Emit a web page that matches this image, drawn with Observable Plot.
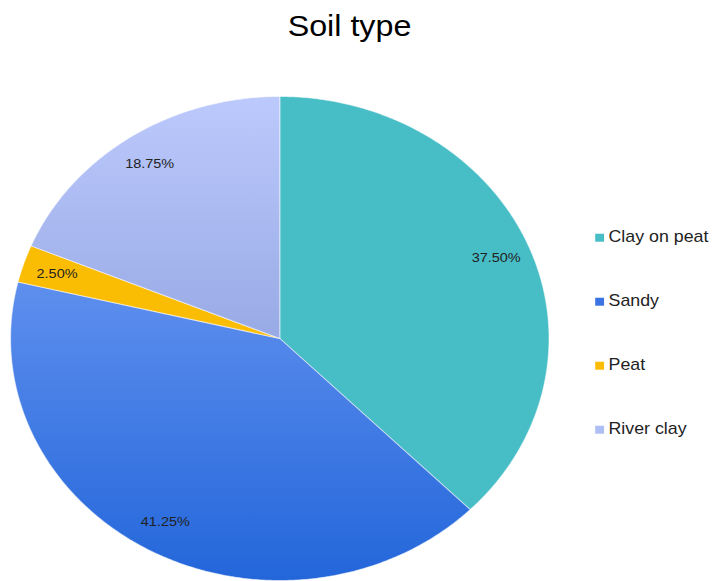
<!DOCTYPE html>
<html><head><meta charset="utf-8">
<script src="https://cdn.jsdelivr.net/npm/d3@7"></script>
<script src="https://cdn.jsdelivr.net/npm/@observablehq/plot@0.6"></script>
<style>
body{margin:0;background:#fff;font-family:"Liberation Sans",Arial,sans-serif}
</style>
</head><body><div id="chart"></div>
<script>
const title = "Soil type";
const categories = ["Clay on peat", "Sandy", "Peat", "River clay"];
const shares = [37.5, 41.25, 2.5, 18.75];
const valueLabels = ["37.50%", "41.25%", "2.50%", "18.75%"];
const sliceFills = ["#47BDC6", "url(#gSandy)", "#FBBC04", "url(#gRiver)"];
const legendColors = ["#47BDC6", "#3A74E2", "#FBBC04", "#AEBFF5"];

const total = d3.sum(shares);
let acc = 0;
const slices = categories.map((c, i) => {
  const a0 = acc / total * 360;
  acc += shares[i];
  const a1 = acc / total * 360;
  return {category: c, a0, a1, mid: (a0 + a1) / 2, label: valueLabels[i], fill: sliceFills[i]};
});
function ring(s) {
  const pts = [{x: 0, y: 0}];
  const n = Math.max(4, Math.ceil((s.a1 - s.a0) * 2));
  for (let k = 0; k <= n; k++) {
    const a = (s.a0 + (s.a1 - s.a0) * k / n) * Math.PI / 180;
    pts.push({x: Math.sin(a), y: Math.cos(a)});
  }
  pts.push({x: 0, y: 0});
  return pts;
}
const labelR = 0.87;
const legendStep = 0.2645;

const marks = [];
slices.forEach(s => {
  marks.push(Plot.line(ring(s), {x: "x", y: "y", fill: s.fill, stroke: "white", strokeWidth: 1, strokeOpacity: 0.5}));
});
marks.push(Plot.text(slices, {
  x: d => labelR * Math.sin(d.mid * Math.PI / 180),
  y: d => labelR * Math.cos(d.mid * Math.PI / 180),
  text: "label", fontSize: 13, fill: "#222"
}));
marks.push(Plot.text([title], {x: [0.259], y: [1.248], text: d => d, fontSize: 29, lineAnchor: "bottom", fill: "#000"}));
marks.push(Plot.dot(categories, {
  x: () => 1.188, y: (d, i) => 0.4165 - i * legendStep,
  symbol: "square", r: 4.5, fill: (d, i) => legendColors[i], stroke: null
}));
marks.push(Plot.text(categories, {
  x: () => 1.221, y: (d, i) => 0.4215 - i * legendStep,
  text: d => d, textAnchor: "start", fontSize: 16, fill: "#222"
}));

const svg = Plot.plot({
  width: 640, height: 581,
  marginLeft: 9, marginRight: 147, marginTop: 96, marginBottom: 1,
  x: {domain: [-1, 1], axis: null},
  y: {domain: [-1, 1], axis: null},
  color: {type: "identity"},
  style: {fontFamily: '"Liberation Sans", Arial, sans-serif', background: "white", overflow: "visible"},
  marks
});

const NS = "http://www.w3.org/2000/svg";
const defs = document.createElementNS(NS, "defs");
function grad(id, c0, c1) {
  const g = document.createElementNS(NS, "linearGradient");
  g.setAttribute("id", id);
  g.setAttribute("x1", "0"); g.setAttribute("y1", "0");
  g.setAttribute("x2", "0"); g.setAttribute("y2", "1");
  [[0, c0], [1, c1]].forEach(([o, c]) => {
    const st = document.createElementNS(NS, "stop");
    st.setAttribute("offset", o);
    st.setAttribute("stop-color", c);
    g.appendChild(st);
  });
  defs.appendChild(g);
}
grad("gSandy", "#5E8FEE", "#2366DA");
grad("gRiver", "#BCC9FC", "#98AAE5");
svg.insertBefore(defs, svg.firstChild);
svg.setAttribute("width", 712);
svg.setAttribute("height", 581);
svg.setAttribute("preserveAspectRatio", "none");
svg.style.maxWidth = "none";
svg.style.height = "581px";
svg.style.width = "712px";
document.getElementById("chart").appendChild(svg);
</script>
</body></html>
